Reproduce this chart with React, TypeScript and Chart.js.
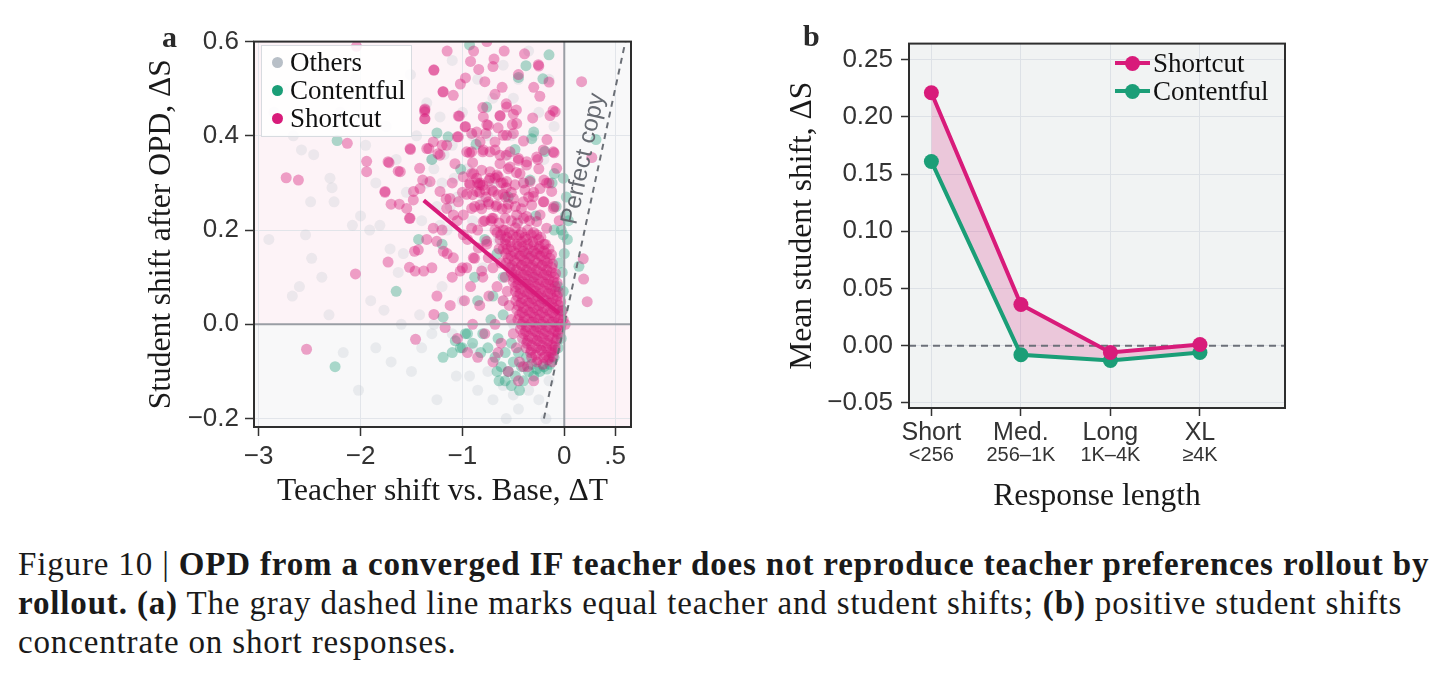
import { useEffect, useRef } from "react";
import { Chart, registerables } from "chart.js";

Chart.register(...registerables);

const PINK = "#d81b7a";
const GREEN = "#1b9e77";
const GRAY = "#b8bfc7";
const SANS = "'Liberation Sans', Arial, sans-serif";
const SERIF = "'Liberation Serif', 'Times New Roman', serif";

// ---- panel a: teacher shift (x) vs student shift (y) ----
const othersPoints: [number, number][] = [
  [-2.66, 0.4], [-2.58, 0.37], [-2.46, 0.36], [-2.3, 0.31], [-2.28, 0.29], [-2.49, 0.26], [-2.26, 0.26],
  [-2.54, 0.19], [-2.08, 0.21], [-2.0, 0.23], [-1.91, 0.2], [-1.81, 0.21], [-2.48, 0.14], [-2.38, 0.1],
  [-2.67, 0.06], [-2.31, 0.02], [-2.17, -0.06], [-2.02, -0.14], [-1.77, 0.03], [-1.71, 0.16], [-1.58, 0.15],
  [-1.63, 0.11], [-1.25, -0.16], [-0.57, -0.2], [-0.93, -0.11], [-1.06, -0.11], [-1.28, 0.0], [-1.42, 0.02],
  [-1.3, -0.02], [-1.51, 0.53], [-1.35, 0.47], [-1.22, 0.44], [-1.1, 0.56], [-0.5, 0.48], [-0.52, 0.4],
  [-0.3, 0.4], [-2.85, 0.45], [-2.75, 0.5], [-2.9, 0.18], [-2.6, 0.08], [-2.2, 0.45], [-2.05, 0.52],
  [-1.95, 0.38], [-1.85, 0.3], [-1.75, 0.42], [-1.65, 0.35], [-1.55, 0.28], [-1.45, 0.4], [-1.4, 0.22],
  [-1.35, 0.3], [-1.3, 0.35], [-1.25, 0.25], [-1.2, 0.3], [-1.15, 0.2], [-1.1, 0.38], [-1.05, 0.27],
  [-1.0, 0.45], [-0.95, 0.33], [-0.9, 0.22], [-0.85, 0.52], [-0.8, 0.12], [-0.75, 0.4], [-0.7, 0.48],
  [-0.65, 0.18], [-0.6, 0.55], [-0.55, 0.36], [-0.45, 0.52], [-0.4, 0.3], [-0.35, 0.58], [-0.25, 0.45],
  [-0.2, 0.35], [-0.15, 0.52], [-0.1, 0.42], [-1.9, 0.05], [-1.85, -0.05], [-1.7, -0.08], [-1.6, 0.0],
  [-1.5, -0.1], [-1.4, -0.05], [-1.2, 0.08], [-1.1, -0.02], [-1.0, 0.05], [-0.9, -0.05], [-0.85, -0.14],
  [-0.75, -0.1], [-0.7, -0.16], [-0.6, -0.13], [-0.5, -0.15], [-0.45, -0.18], [-0.35, -0.14], [-0.25, -0.16],
  [-0.18, -0.2], [-0.15, -0.12], [-0.6, 0.05], [-0.5, 0.0], [-0.4, -0.04], [-0.3, 0.1], [-0.2, 0.05],
  [-0.1, 0.0], [-0.55, 0.12], [-0.45, 0.22], [-0.35, 0.15], [-0.7, 0.3], [-0.8, 0.26], [-0.9, 0.4],
  [-1.28, 0.33], [-1.18, 0.36], [-1.08, 0.31], [-1.22, 0.21], [-1.12, 0.25],
];

const contentfulPoints: [number, number][] = [
  [-0.93, 0.593], [-0.15, 0.572], [-0.376, 0.549], [-0.21, 0.521], [-0.45, 0.524], [-0.762, 0.461],
  [-1.25, 0.406], [-1.14, 0.398], [-0.866, 0.382], [-0.484, 0.371], [-0.3, 0.408], [-0.32, 0.394],
  [-0.19, 0.367], [-0.336, 0.306], [-0.098, 0.32], [0.311, 0.392], [-1.017, 0.329], [-2.23, 0.39],
  [-0.01, 0.31], [0.144, 0.123], [-1.43, 0.18], [-1.65, 0.07], [-2.25, -0.09], [-1.19, -0.07],
  [-1.1, -0.06], [-1.02, -0.05], [-1.07, -0.035], [-1.19, 0.015], [-0.97, -0.02], [-0.66, -0.1],
  [-0.64, -0.12], [-0.8, -0.02], [-0.75, -0.05], [-0.72, 0.01], [-0.68, -0.07], [-0.65, -0.03],
  [-0.62, -0.09], [-0.6, 0.02], [-0.58, -0.06], [-0.55, -0.1], [-0.52, -0.04], [-0.5, -0.08],
  [-0.48, -0.11], [-0.45, -0.06], [-0.42, -0.09], [-0.4, -0.12], [-0.37, -0.07], [-0.35, -0.1],
  [-0.32, -0.085], [-0.3, -0.11], [-0.27, -0.095], [-0.24, -0.1], [-0.2, -0.09], [-0.17, -0.095],
  [-0.14, -0.085], [-0.1, -0.07], [-0.06, -0.05], [-0.03, -0.03], [-0.02, 0.03], [-0.01, 0.07],
  [-0.02, 0.11], [0.0, 0.15], [-0.01, 0.19], [0.01, 0.23], [0.02, 0.27], [-0.03, 0.2], [-0.05, 0.13],
  [-0.85, 0.05], [-0.9, -0.04], [-0.95, -0.02], [-1.0, -0.05], [-0.88, 0.1], [-0.7, 0.06], [-0.6, 0.1],
  [-0.66, 0.15], [-0.78, 0.18], [-0.1, 0.2], [-0.08, 0.25], [-0.12, 0.3], [0.03, 0.18], [0.04, 0.22],
  [-0.52, -0.13], [-0.44, -0.14], [-0.58, -0.12], [-0.82, -0.06], [-0.06, 0.08],
  [-1.3, 0.35], [-1.2, 0.17], [-0.55, 0.27], [-0.28, 0.23],
];

const shortcutPoints: [number, number][] = [
  // sparse upper cloud and outliers
  [-2.04, 0.59], [-1.15, 0.58], [-0.89, 0.58], [-0.76, 0.6], [-0.59, 0.58], [-0.39, 0.574], [-1.28, 0.54],
  [-0.92, 0.558], [-0.84, 0.541], [-0.69, 0.563], [-0.7, 0.547], [-0.25, 0.548], [-0.45, 0.53], [-0.15, 0.514],
  [-0.3, 0.503], [-0.24, 0.484], [-1.19, 0.494], [-1.09, 0.486], [-1.02, 0.51], [-0.97, 0.523], [-0.78, 0.515],
  [-0.61, 0.503], [-0.68, 0.488], [-0.8, 0.46], [-0.57, 0.468], [-0.47, 0.455], [-1.37, 0.455], [-1.37, 0.436],
  [-1.03, 0.442], [-0.63, 0.442], [-0.5, 0.446], [-0.31, 0.438], [-0.14, 0.443], [-0.11, 0.454], [-0.97, 0.42],
  [-0.86, 0.408], [-0.76, 0.424], [-0.65, 0.417], [-0.51, 0.424], [-0.77, 0.405], [-0.6, 0.401], [-0.5, 0.405],
  [-1.05, 0.398], [-1.2, 0.38], [-1.33, 0.373], [-1.51, 0.371], [-0.4, 0.389], [-0.17, 0.392], [-0.1, 0.364],
  [-0.93, 0.364], [-0.8, 0.366], [-0.68, 0.37], [-0.9, 0.343], [-0.57, 0.359], [-0.45, 0.352], [-0.26, 0.35],
  [-0.37, 0.338], [-1.72, 0.343], [-1.61, 0.324], [-1.39, 0.306], [-1.24, 0.362], [-0.66, 0.317], [-0.89, 0.32],
  [-0.47, 0.322], [-0.2, 0.306], [-1.76, 0.282], [-1.48, 0.282], [-1.16, 0.266], [-0.93, 0.299], [-0.83, 0.296],
  [-2.73, 0.311], [-2.61, 0.306], [-2.13, 0.384], [-2.05, 0.107], [-2.53, -0.053], [-1.94, 0.346], [-1.94, 0.324],
  [-1.73, 0.345], [-1.63, 0.325], [-1.76, 0.28], [-1.7, 0.255], [-1.62, 0.255], [-1.52, 0.225], [-1.73, 0.132],
  [-1.52, 0.121], [-1.46, -0.032], [-1.47, 0.155], [-1.38, 0.113], [-1.28, 0.021], [-1.17, -0.007], [-1.28, 0.539],
  [-1.19, 0.493], [-1.42, 0.331], [-1.37, 0.451], [0.17, 0.515], [-0.09, 0.451], [0.186, 0.139],
  [0.19, 0.096], [0.225, 0.048], [0.27, 0.354], [-0.255, 0.551],
  // upper dense band above the core
  [-1.367, 0.457], [-1.367, 0.436], [-1.04, 0.442], [-0.974, 0.419], [-0.909, 0.405], [-0.795, 0.44], [-0.746, 0.422],
  [-0.631, 0.443], [-0.565, 0.461], [-0.467, 0.426], [-0.565, 0.401], [-0.68, 0.387], [-0.827, 0.387], [-0.958, 0.366],
  [-1.04, 0.398], [-1.154, 0.38], [-1.286, 0.387], [-1.35, 0.373], [-1.514, 0.373], [-1.22, 0.359], [-1.073, 0.341],
  [-0.909, 0.366], [-0.795, 0.37], [-0.729, 0.366], [-0.631, 0.359], [-0.533, 0.366], [-0.451, 0.348], [-0.369, 0.345],
  [-0.271, 0.355], [-0.206, 0.37], [-0.108, 0.366], [-0.075, 0.331], [-0.173, 0.3], [-0.238, 0.288], [-0.337, 0.303],
  [-0.435, 0.32], [-0.533, 0.334], [-0.631, 0.341], [-0.729, 0.324], [-0.811, 0.327], [-0.909, 0.32], [-0.991, 0.313],
  [-0.925, 0.296], [-0.827, 0.3], [-0.729, 0.31], [-0.648, 0.313], [-0.565, 0.303], [-0.484, 0.296], [-0.386, 0.285],
  [-0.304, 0.271], [-0.206, 0.26], [-0.108, 0.246], [-0.124, 0.282], [-0.238, 0.232], [-0.32, 0.253], [-0.402, 0.26],
  [-0.5, 0.267], [-0.599, 0.276], [-0.697, 0.282], [-0.778, 0.285], [-0.86, 0.282], [-0.958, 0.276], [-1.04, 0.26],
  [-1.122, 0.267], [-1.154, 0.246], [-1.089, 0.232], [-0.991, 0.232], [-0.909, 0.246], [-0.827, 0.253], [-0.746, 0.26],
  [-0.663, 0.253], [-0.565, 0.246], [-0.467, 0.232], [-0.369, 0.229], [-0.271, 0.218], [-0.173, 0.204], [-1.286, 0.204],
  [-1.252, 0.176], [-1.187, 0.155], [-1.089, 0.141], [-0.991, 0.19], [-0.909, 0.204], [-0.795, 0.218], [-0.697, 0.225],
  [-1.022, 0.113], [-1.416, 0.288], [-1.482, 0.264], [-1.547, 0.246], [-1.514, 0.225], [-1.433, 0.158], [-1.465, 0.113],
  [-1.318, 0.303], [-1.22, 0.282], [-0.844, 0.162], [-0.762, 0.176], [-0.893, 0.141], [-0.958, 0.12], [-0.746, 0.141],
  [-0.811, 0.113],
  // middle band
  [-1.2, 0.2], [-1.15, 0.15], [-1.1, 0.1], [-1.05, 0.22], [-1.0, 0.12], [-0.98, 0.05], [-0.95, 0.18],
  [-0.92, 0.08], [-0.9, 0.0], [-0.88, 0.14], [-0.85, 0.2], [-0.83, 0.04], [-0.8, 0.1], [-0.78, -0.02],
  [-0.76, 0.17], [-0.74, 0.06], [-0.72, 0.22], [-0.7, 0.12], [-0.68, 0.0], [-0.66, 0.08], [-0.64, 0.16],
  [-0.62, -0.04], [-0.6, 0.05], [-0.58, 0.2], [-1.12, 0.04], [-1.05, -0.03], [-0.95, -0.06], [-1.3, 0.12],
  [-1.25, 0.06], [-1.35, 0.18], [-1.0, 0.28], [-1.1, 0.3], [-0.85, 0.3], [-0.6, 0.3], [-0.55, 0.33],
  [-0.4, 0.3], [-0.3, 0.28], [-0.2, 0.26], [-0.15, 0.3], [-0.1, 0.25], [-0.05, 0.22], [-0.25, 0.33],
  [-0.35, 0.27], [-0.7, -0.08], [-0.55, -0.1], [-0.45, -0.12], [-0.3, -0.12], [-0.85, -0.07], [-0.65, -0.06],
  [-0.68, 0.2], [-0.63, 0.18], [-0.6, 0.16], [-0.62, 0.13], [-0.58, 0.1], [-0.56, 0.07], [-0.54, 0.04],
  [-0.52, 0.01], [-0.5, -0.02], [-0.47, -0.05], [-0.44, -0.08], [-0.4, -0.09], [-0.36, -0.09],
  // dense core
  [-0.86, 0.31], [-0.8, 0.295], [-0.74, 0.305], [-0.68, 0.31], [-0.62, 0.3], [-0.57, 0.29],
  [-0.9, 0.275], [-0.83, 0.28], [-0.77, 0.27], [-0.71, 0.285], [-0.65, 0.275], [-0.58, 0.27], [-0.52, 0.28],
  [-0.88, 0.25], [-0.81, 0.245], [-0.74, 0.255], [-0.67, 0.25], [-0.61, 0.245], [-0.55, 0.255], [-0.48, 0.25], [-0.42, 0.245],
  [-0.78, 0.22], [-0.71, 0.225], [-0.64, 0.215], [-0.58, 0.225], [-0.52, 0.22], [-0.46, 0.215], [-0.4, 0.225], [-0.34, 0.22],
  [-0.66, 0.195], [-0.6, 0.2], [-0.54, 0.195], [-0.48, 0.205], [-0.42, 0.195], [-0.36, 0.2], [-0.3, 0.195],
  [-0.58, 0.18], [-0.53, 0.175], [-0.47, 0.185], [-0.42, 0.175], [-0.37, 0.18], [-0.31, 0.175], [-0.25, 0.18], [-0.2, 0.17],
  [-0.56, 0.16], [-0.5, 0.155], [-0.45, 0.165], [-0.4, 0.155], [-0.35, 0.16], [-0.3, 0.155], [-0.25, 0.16], [-0.2, 0.155], [-0.15, 0.16],
  [-0.55, 0.14], [-0.49, 0.135], [-0.44, 0.145], [-0.39, 0.135], [-0.34, 0.14], [-0.29, 0.135], [-0.24, 0.145], [-0.19, 0.135], [-0.14, 0.14],
  [-0.53, 0.12], [-0.47, 0.115], [-0.42, 0.125], [-0.37, 0.115], [-0.32, 0.12], [-0.27, 0.115], [-0.22, 0.125], [-0.17, 0.115], [-0.12, 0.12],
  [-0.5, 0.1], [-0.45, 0.095], [-0.4, 0.105], [-0.35, 0.095], [-0.3, 0.1], [-0.25, 0.095], [-0.2, 0.105], [-0.15, 0.095], [-0.1, 0.1],
  [-0.48, 0.08], [-0.43, 0.075], [-0.38, 0.085], [-0.33, 0.075], [-0.28, 0.08], [-0.23, 0.075], [-0.18, 0.085], [-0.13, 0.075], [-0.09, 0.08],
  [-0.46, 0.06], [-0.41, 0.055], [-0.36, 0.065], [-0.31, 0.055], [-0.26, 0.06], [-0.21, 0.055], [-0.16, 0.065], [-0.11, 0.055], [-0.07, 0.06],
  [-0.45, 0.04], [-0.4, 0.035], [-0.35, 0.045], [-0.3, 0.035], [-0.25, 0.04], [-0.2, 0.035], [-0.15, 0.045], [-0.1, 0.035], [-0.05, 0.04],
  [-0.44, 0.02], [-0.39, 0.015], [-0.34, 0.025], [-0.29, 0.015], [-0.24, 0.02], [-0.19, 0.015], [-0.14, 0.025], [-0.09, 0.015], [-0.04, 0.02],
  [-0.42, 0.0], [-0.37, -0.005], [-0.32, 0.005], [-0.27, -0.005], [-0.22, 0.0], [-0.17, -0.005], [-0.12, 0.005], [-0.07, -0.005], [-0.03, 0.0], [0.01, 0.0],
  [-0.4, -0.02], [-0.35, -0.025], [-0.3, -0.015], [-0.25, -0.025], [-0.2, -0.02], [-0.15, -0.025], [-0.1, -0.015], [-0.06, -0.02],
  [-0.37, -0.04], [-0.32, -0.045], [-0.27, -0.035], [-0.22, -0.045], [-0.17, -0.04], [-0.12, -0.045], [-0.08, -0.035],
  [-0.33, -0.06], [-0.28, -0.065], [-0.23, -0.055], [-0.18, -0.065], [-0.13, -0.06], [-0.09, -0.055],
  [-0.27, -0.08], [-0.21, -0.085], [-0.16, -0.075], [-0.12, -0.08],
  // core, in-between rows
  [-0.625, 0.19], [-0.565, 0.185], [-0.505, 0.19], [-0.445, 0.19], [-0.385, 0.185], [-0.325, 0.19], [-0.27, 0.19], [-0.23, 0.185],
  [-0.575, 0.17], [-0.52, 0.165], [-0.465, 0.17], [-0.41, 0.165], [-0.355, 0.17], [-0.3, 0.168], [-0.245, 0.165], [-0.185, 0.17],
  [-0.575, 0.15], [-0.525, 0.145], [-0.475, 0.15], [-0.425, 0.145], [-0.375, 0.15], [-0.325, 0.145], [-0.275, 0.15], [-0.225, 0.145], [-0.175, 0.15], [-0.125, 0.148],
  [-0.57, 0.13], [-0.515, 0.125], [-0.465, 0.13], [-0.415, 0.125], [-0.365, 0.13], [-0.315, 0.125], [-0.265, 0.13], [-0.215, 0.125], [-0.165, 0.13], [-0.115, 0.128],
  [-0.52, 0.11], [-0.475, 0.105], [-0.425, 0.11], [-0.375, 0.105], [-0.325, 0.11], [-0.275, 0.105], [-0.225, 0.11], [-0.175, 0.105], [-0.125, 0.11], [-0.085, 0.108],
  [-0.5, 0.09], [-0.455, 0.085], [-0.405, 0.09], [-0.355, 0.085], [-0.305, 0.09], [-0.255, 0.085], [-0.205, 0.09], [-0.155, 0.085], [-0.105, 0.09], [-0.07, 0.088],
  [-0.48, 0.07], [-0.435, 0.065], [-0.385, 0.07], [-0.335, 0.065], [-0.285, 0.07], [-0.235, 0.065], [-0.185, 0.07], [-0.135, 0.065], [-0.085, 0.07], [-0.05, 0.068],
  [-0.475, 0.05], [-0.425, 0.045], [-0.375, 0.05], [-0.325, 0.045], [-0.275, 0.05], [-0.225, 0.045], [-0.175, 0.05], [-0.125, 0.045], [-0.075, 0.05], [-0.035, 0.048],
  [-0.465, 0.03], [-0.415, 0.025], [-0.365, 0.03], [-0.315, 0.025], [-0.265, 0.03], [-0.215, 0.025], [-0.165, 0.03], [-0.115, 0.025], [-0.065, 0.03], [-0.02, 0.028],
  [-0.455, 0.01], [-0.405, 0.005], [-0.355, 0.01], [-0.305, 0.005], [-0.255, 0.01], [-0.205, 0.005], [-0.155, 0.01], [-0.105, 0.005], [-0.055, 0.01], [-0.01, 0.01],
  [-0.43, -0.01], [-0.38, -0.015], [-0.33, -0.01], [-0.28, -0.015], [-0.23, -0.01], [-0.18, -0.015], [-0.13, -0.01], [-0.08, -0.015], [-0.04, -0.01],
  [-0.41, -0.03], [-0.36, -0.035], [-0.31, -0.03], [-0.26, -0.035], [-0.21, -0.03], [-0.16, -0.035], [-0.11, -0.03], [-0.07, -0.03],
  [-0.375, -0.05], [-0.325, -0.055], [-0.275, -0.05], [-0.225, -0.055], [-0.175, -0.05], [-0.125, -0.055], [-0.09, -0.048],
  [-0.32, -0.07], [-0.26, -0.075], [-0.2, -0.07], [-0.15, -0.07], [-0.11, -0.068],
];

// trend of shortcut rollouts and the y = x reference
const trendX = [-1.38, -0.05];
const trendY = [0.263, 0.023];
const perfectCopyX = [-0.2, 0.6];
const perfectCopyY = [-0.2, 0.6];

const aXTicks = [-3, -2, -1, 0, 0.5];
const aXTickLabels = ["−3", "−2", "−1", "0", ".5"];
const aYTicks = [-0.2, 0, 0.2, 0.4, 0.6];

// ---- panel b: mean student shift by response length ----
const lengthBins = ["Short", "Med.", "Long", "XL"];
const lengthRanges = ["<256", "256–1K", "1K–4K", "≥4K"];
const shortcutMean = [0.221, 0.036, -0.006, 0.001];
const contentfulMean = [0.161, -0.008, -0.013, -0.006];
const bYTicks = [-0.05, 0, 0.05, 0.1, 0.15, 0.2, 0.25];

const minus = (v: number, d: number) => v.toFixed(d).replace("-", "−");

const framePlugin = {
  id: "frame",
  afterDraw(chart: any) {
    const { ctx, chartArea: a } = chart;
    ctx.save();
    ctx.strokeStyle = "#2e2e2e";
    ctx.lineWidth = 2;
    ctx.strokeRect(a.left, a.top, a.right - a.left, a.bottom - a.top);
    ctx.restore();
  },
};

const titleFont = { family: SERIF, size: 31.5 };

function ScatterPanel() {
  const canvasRef = useRef<HTMLCanvasElement>(null);

  useEffect(() => {
    if (!canvasRef.current) return;
    const toXY = (pts: [number, number][]) => pts.map(([x, y]) => ({ x, y }));

    const chart = new Chart(canvasRef.current, {
      type: "scatter",
      data: {
        datasets: [
          { label: "Others", data: toXY(othersPoints), backgroundColor: "rgba(184,191,199,0.24)", pointRadius: 5.5, borderWidth: 0, order: 4 },
          { label: "Contentful", data: toXY(contentfulPoints), backgroundColor: "rgba(27,158,119,0.36)", pointRadius: 5.5, borderWidth: 0, order: 3 },
          { label: "Shortcut", data: toXY(shortcutPoints), backgroundColor: "rgba(216,27,122,0.4)", pointRadius: 5.5, borderWidth: 0, order: 2 },
          {
            label: "Perfect copy",
            data: perfectCopyX.map((x, i) => ({ x, y: perfectCopyY[i] })),
            showLine: true, borderColor: "#6b6f76", borderWidth: 2, borderDash: [6, 5], pointRadius: 0, order: 1,
          },
          {
            label: "trend",
            data: trendX.map((x, i) => ({ x, y: trendY[i] })),
            showLine: true, borderColor: PINK, borderWidth: 4, pointRadius: 0, order: 0,
          },
        ],
      },
      options: {
        responsive: false,
        animation: false,
        layout: { padding: { top: 19, right: 19, left: 0, bottom: 0 } },
        plugins: { legend: { display: false }, tooltip: { enabled: false } },
        scales: {
          x: {
            type: "linear",
            min: -3.046,
            max: 0.655,
            afterBuildTicks: (s: any) => { s.ticks = aXTicks.map(value => ({ value })); },
            afterFit: (s: any) => { s.height = 93; },
            ticks: {
              autoSkip: false,
              maxRotation: 0,
              padding: 5,
              color: "#333",
              font: { family: SANS, size: 26 },
              callback: (v: any) => aXTickLabels[aXTicks.indexOf(Number(v))] ?? "",
            },
            grid: { color: "#e2e5ea", tickColor: "#333", tickLength: 9, tickWidth: 1.5 },
            border: { display: false },
            title: { display: true, text: "Teacher shift vs. Base, ΔT", color: "#1a1a1a", font: titleFont, padding: { top: 0, bottom: 9 } },
          },
          y: {
            type: "linear",
            min: -0.218,
            max: 0.6,
            afterBuildTicks: (s: any) => { s.ticks = aYTicks.map(value => ({ value })); },
            afterFit: (s: any) => { s.width = 114; },
            ticks: {
              padding: 6,
              color: "#333",
              font: { family: SANS, size: 26 },
              callback: (v: any) => minus(Number(v), 1),
            },
            grid: { color: "#e2e5ea", tickColor: "#333", tickLength: 9, tickWidth: 1.5 },
            border: { display: false },
            title: { display: true, text: "Student shift after OPD, ΔS", color: "#1a1a1a", font: titleFont, padding: { top: 3, bottom: 0 } },
          },
        },
      },
      plugins: [
        {
          id: "quadrants",
          beforeDraw(c: any) {
            const { ctx, chartArea: a, scales } = c;
            const x0 = scales.x.getPixelForValue(0);
            const y0 = scales.y.getPixelForValue(0);
            ctx.save();
            ctx.fillStyle = "#fdf3f7";
            ctx.fillRect(a.left, a.top, x0 - a.left, y0 - a.top);
            ctx.fillRect(x0, y0, a.right - x0, a.bottom - y0);
            ctx.fillStyle = "#f8f8f9";
            ctx.fillRect(x0, a.top, a.right - x0, y0 - a.top);
            ctx.fillRect(a.left, y0, x0 - a.left, a.bottom - y0);
            ctx.restore();
          },
        },
        {
          id: "zeroLines",
          afterDatasetsDraw(c: any) {
            const { ctx, chartArea: a, scales } = c;
            const x0 = scales.x.getPixelForValue(0);
            const y0 = scales.y.getPixelForValue(0);
            ctx.save();
            ctx.strokeStyle = "#9a9ea5";
            ctx.lineWidth = 2;
            ctx.beginPath();
            ctx.moveTo(a.left, y0); ctx.lineTo(a.right, y0);
            ctx.moveTo(x0, a.top); ctx.lineTo(x0, a.bottom);
            ctx.stroke();
            // label along the y = x line
            const p1 = { x: scales.x.getPixelForValue(perfectCopyX[0]), y: scales.y.getPixelForValue(perfectCopyY[0]) };
            const p2 = { x: scales.x.getPixelForValue(perfectCopyX[1]), y: scales.y.getPixelForValue(perfectCopyY[1]) };
            const angle = Math.atan2(p2.y - p1.y, p2.x - p1.x);
            ctx.translate(scales.x.getPixelForValue(0.344), scales.y.getPixelForValue(0.344));
            ctx.rotate(angle);
            ctx.font = `24px ${SANS}`;
            ctx.fillStyle = "#676b72";
            ctx.textAlign = "center";
            ctx.textBaseline = "bottom";
            ctx.fillText("Perfect copy", 0, -4);
            ctx.restore();
          },
        },
        framePlugin,
      ],
    } as any);
    return () => chart.destroy();
  }, []);

  return <canvas ref={canvasRef} width={510} height={500} style={{ position: "absolute", left: 140, top: 20 }} />;
}

function LengthPanel() {
  const canvasRef = useRef<HTMLCanvasElement>(null);

  useEffect(() => {
    if (!canvasRef.current) return;
    const chart = new Chart(canvasRef.current, {
      type: "line",
      data: {
        datasets: [
          {
            label: "Shortcut",
            data: shortcutMean.map((y, x) => ({ x, y })),
            borderColor: PINK, backgroundColor: "rgba(216,27,122,0.2)", borderWidth: 4,
            pointRadius: 7.5, pointBackgroundColor: PINK, pointBorderWidth: 0,
            fill: "+1", order: 0,
          },
          {
            label: "Contentful",
            data: contentfulMean.map((y, x) => ({ x, y })),
            borderColor: GREEN, borderWidth: 4,
            pointRadius: 7.5, pointBackgroundColor: GREEN, pointBorderWidth: 0,
            fill: false, order: 1,
          },
          {
            label: "zero",
            data: [{ x: -0.25, y: 0 }, { x: 3.95, y: 0 }],
            borderColor: "#6c7079", borderWidth: 2, borderDash: [7, 5], pointRadius: 0, fill: false, order: 2,
          },
        ],
      },
      options: {
        responsive: false,
        animation: false,
        layout: { padding: { top: 18, right: 15, left: 0, bottom: 0 } },
        plugins: { legend: { display: false }, tooltip: { enabled: false }, filler: { drawTime: "beforeDatasetsDraw" } },
        scales: {
          x: {
            type: "linear",
            min: -0.25,
            max: 3.95,
            afterBuildTicks: (s: any) => { s.ticks = lengthBins.map((_, value) => ({ value })); },
            afterFit: (s: any) => { s.height = 112; },
            ticks: {
              autoSkip: false,
              maxRotation: 0,
              padding: 2,
              color: "#333",
              font: { family: SANS, size: 25 },
              callback: (v: any) => lengthBins[Number(v)] ?? "",
            },
            grid: { color: "#dde1e6", tickColor: "#333", tickLength: 8, tickWidth: 1.5 },
            border: { display: false },
            title: { display: true, text: "Response length", color: "#1a1a1a", font: titleFont, padding: { top: 0, bottom: 4 } },
          },
          y: {
            type: "linear",
            min: -0.0545,
            max: 0.264,
            afterBuildTicks: (s: any) => { s.ticks = bYTicks.map(value => ({ value })); },
            afterFit: (s: any) => { s.width = 129; },
            ticks: {
              padding: 8,
              color: "#333",
              font: { family: SANS, size: 26 },
              callback: (v: any) => minus(Number(v), 2),
            },
            grid: { color: "#dde1e6", tickColor: "#333", tickLength: 8, tickWidth: 1.5 },
            border: { display: false },
            title: { display: true, text: "Mean student shift, ΔS", color: "#1a1a1a", font: titleFont, padding: { top: 4, bottom: 0 } },
          },
        },
      },
      plugins: [
        {
          id: "panelBg",
          beforeDraw(c: any) {
            const { ctx, chartArea: a } = c;
            ctx.save();
            ctx.fillStyle = "#f1f3f3";
            ctx.fillRect(a.left, a.top, a.right - a.left, a.bottom - a.top);
            ctx.restore();
          },
        },
        {
          id: "subLabels",
          afterDraw(c: any) {
            const { ctx, chartArea: a, scales } = c;
            ctx.save();
            ctx.font = `20px ${SANS}`;
            ctx.fillStyle = "#333";
            ctx.textAlign = "center";
            ctx.textBaseline = "middle";
            lengthRanges.forEach((s, i) => ctx.fillText(s, scales.x.getPixelForValue(i), a.bottom + 47));
            ctx.restore();
          },
        },
        framePlugin,
      ],
    } as any);
    return () => chart.destroy();
  }, []);

  return <canvas ref={canvasRef} width={520} height={500} style={{ position: "absolute", left: 780, top: 20 }} />;
}

const legendDot = (color: string, size: number) => ({
  display: "inline-block", width: size, height: size, borderRadius: "50%", background: color,
});

export default function App() {
  const captionLine = {
    position: "absolute" as const, left: 18, fontFamily: SERIF, fontSize: 33, letterSpacing: 0.85,
    lineHeight: "38px", whiteSpace: "nowrap" as const, color: "#1a1a1a",
  };
  const legendText = { fontFamily: SERIF, fontSize: 27, color: "#111", lineHeight: "28px" };

  return (
    <div style={{ position: "absolute", left: 0, top: 0, width: 1443, height: 676, background: "#fff", overflow: "hidden" }}>
      <ScatterPanel />
      <LengthPanel />

      <div style={{ position: "absolute", left: 162, top: 20, fontFamily: SERIF, fontWeight: "bold", fontSize: 30, color: "#2a2a2a" }}>a</div>
      <div style={{ position: "absolute", left: 803, top: 19, fontFamily: SERIF, fontWeight: "bold", fontSize: 30, color: "#2a2a2a" }}>b</div>

      <div style={{ position: "absolute", left: 261, top: 45, width: 151, height: 92, boxSizing: "border-box", border: "1px solid #d8dbe0", background: "rgba(255,255,255,0.86)" }}>
        {[["Others", GRAY], ["Contentful", GREEN], ["Shortcut", PINK]].map(([name, color], i) => (
          <div key={name} style={{ position: "absolute", left: 10, top: 2 + i * 28, display: "flex", alignItems: "center" }}>
            <span style={legendDot(color, 11)} />
            <span style={{ ...legendText, marginLeft: 7 }}>{name}</span>
          </div>
        ))}
      </div>

      <div style={{ position: "absolute", left: 1115, top: 49 }}>
        {[["Shortcut", PINK], ["Contentful", GREEN]].map(([name, color], i) => (
          <div key={name} style={{ position: "absolute", left: 0, top: i * 28, display: "flex", alignItems: "center", whiteSpace: "nowrap" }}>
            <span style={{ position: "relative", width: 35, height: 28, display: "inline-block" }}>
              <span style={{ position: "absolute", left: 0, top: 12, width: 35, height: 4, background: color }} />
              <span style={{ ...legendDot(color, 15), position: "absolute", left: 10, top: 6.5 }} />
            </span>
            <span style={{ ...legendText, marginLeft: 3 }}>{name}</span>
          </div>
        ))}
      </div>

      <div style={{ ...captionLine, top: 545 }}>
        Figure 10 | <b>OPD from a converged IF teacher does not reproduce teacher preferences rollout by</b>
      </div>
      <div style={{ ...captionLine, top: 584 }}>
        <b>rollout. (a)</b> The gray dashed line marks equal teacher and student shifts; <b>(b)</b> positive student shifts
      </div>
      <div style={{ ...captionLine, top: 623 }}>concentrate on short responses.</div>
    </div>
  );
}
